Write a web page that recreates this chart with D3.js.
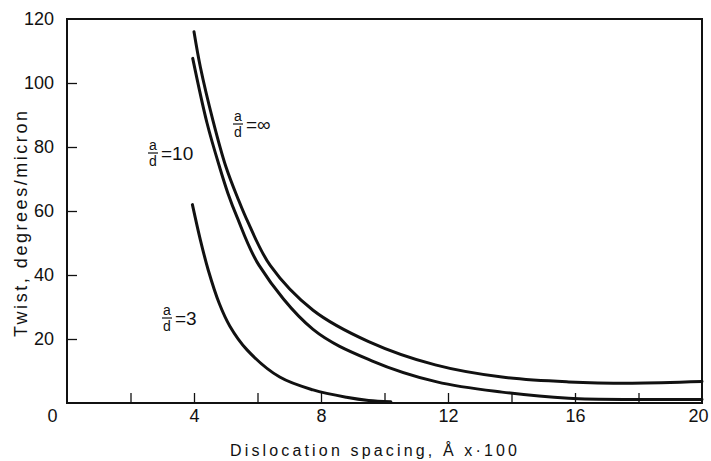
<!DOCTYPE html>
<html>
<head>
<meta charset="utf-8">
<script src="https://cdn.jsdelivr.net/npm/d3@7"></script>
<style>
	body { margin: 0; background: #fff; }
	svg { display: block; font-family: "Liberation Sans", Arial, sans-serif; }
</style>
</head>
<body>
<svg id="chart" width="711" height="461"></svg>
<script>
// values
let xInf = [4, 4.2, 4.6, 5, 5.4, 5.7, 6.4, 7.75, 9.5, 11.6, 13.7, 15.8, 17.8, 20];
let yInf = [116, 105, 88.2, 74, 63.5, 56.5, 43, 29, 19.2, 11.9, 8.1, 6.6, 6.2, 6.7];

let x10 = [3.96, 4.41, 4.81, 5.07, 5.36, 6.05, 7.75, 9.6, 11.65, 13.7, 15.8, 18, 20];
let y10 = [107.7, 87.5, 73.6, 65.5, 58, 43, 23, 13.2, 6.6, 3.4, 1.5, 1.1, 1.1];

let x3 = [3.95, 4.2, 4.45, 4.8, 5.13, 5.67, 6.7, 7.75, 8.8, 9.5, 10.2];
let y3 = [62, 51, 41.5, 31, 24, 16.6, 8.1, 4.1, 1.8, 0.8, 0.4];

let xTicks = [0, 2, 4, 6, 8, 10, 12, 14, 16, 18, 20];
let xLabels = [0, 4, 8, 12, 16, 20];
let yTicks = [20, 40, 60, 80, 100, 120];

let svg = d3.select("#chart");

let x = d3.scaleLinear().domain([0, 20]).range([67, 702]);
let y = d3.scaleLinear().domain([0, 120]).range([403, 19]);

// frame
svg.append("rect")
	.attr("x", x(0))
	.attr("y", y(120))
	.attr("width", x(20) - x(0))
	.attr("height", y(0) - y(120))
	.attr("fill", "none")
	.attr("stroke", "#111")
	.attr("stroke-width", 2);

// x axis, ticks point inward
let xAxis = svg.append("g")
	.attr("transform", "translate(0," + y(0) + ")")
	.call(d3.axisBottom(x)
		.tickValues(xTicks)
		.tickSize(-10)
		.tickPadding(6)
		.tickFormat(function(d) { return xLabels.indexOf(d) >= 0 ? d : ""; }));
xAxis.select(".domain").remove();
xAxis.selectAll("line").attr("stroke", "#111").attr("stroke-width", 1.3)
	.filter(function(d) { return d == 0 || d == 20; }).remove();
xAxis.selectAll("text")
	.style("font-size", "18px")
	.attr("fill", "#111")
	.attr("dx", function(d) { return d == 0 ? -15 : (d == 20 ? -4 : 0); });

// y axis
let yAxis = svg.append("g")
	.attr("transform", "translate(" + x(0) + ",0)")
	.call(d3.axisLeft(y)
		.tickValues(yTicks)
		.tickSize(-10)
		.tickPadding(13));
yAxis.select(".domain").remove();
yAxis.selectAll("line").attr("stroke", "#111").attr("stroke-width", 1.3)
	.filter(function(d) { return d == 120; }).remove();
yAxis.selectAll("text")
	.style("font-size", "18px")
	.attr("fill", "#111");

// curves
let line = d3.line()
	.x(function(d) { return x(d[0]); })
	.y(function(d) { return y(d[1]); })
	.curve(d3.curveCatmullRom.alpha(0.5));

let series = [d3.zip(xInf, yInf), d3.zip(x10, y10), d3.zip(x3, y3)];

svg.append("g")
	.selectAll("path")
	.data(series)
	.enter().append("path")
	.attr("d", line)
	.attr("fill", "none")
	.attr("stroke", "#111")
	.attr("stroke-width", 3)
	.attr("stroke-linecap", "round");

// curve labels a/d = ...
let labelData = [
	{ x: 238, y: 124, val: "∞" },
	{ x: 153, y: 153, val: "10" },
	{ x: 167, y: 318, val: "3" }
];

let labels = svg.append("g")
	.selectAll("g")
	.data(labelData)
	.enter().append("g")
	.attr("transform", function(d) { return "translate(" + d.x + "," + d.y + ")"; })
	.attr("fill", "#111");

labels.append("text")
	.attr("y", -3)
	.style("font-size", "14px")
	.style("text-anchor", "middle")
	.text("a");
labels.append("line")
	.attr("x1", -5).attr("x2", 5)
	.attr("stroke", "#111")
	.attr("stroke-width", 1.2);
labels.append("text")
	.attr("y", 13)
	.style("font-size", "14px")
	.style("text-anchor", "middle")
	.text("d");
labels.append("text")
	.attr("x", 8)
	.attr("y", 7)
	.style("font-size", "19px")
	.text(function(d) { return "=" + d.val; });

// x-axis label
svg.append("text")
	.attr("x", 230)
	.attr("y", 456)
	.attr("textLength", 287)
	.attr("lengthAdjust", "spacing")
	.style("font-size", "16px")
	.attr("fill", "#111")
	.text("Dislocation spacing, Å x·100");

// y-axis label
svg.append("text")
	.attr("transform", "translate(27,224) rotate(-90)")
	.attr("textLength", 226)
	.attr("lengthAdjust", "spacing")
	.style("text-anchor", "middle")
	.style("font-size", "18px")
	.attr("fill", "#111")
	.text("Twist, degrees/micron");
</script>
</body>
</html>
